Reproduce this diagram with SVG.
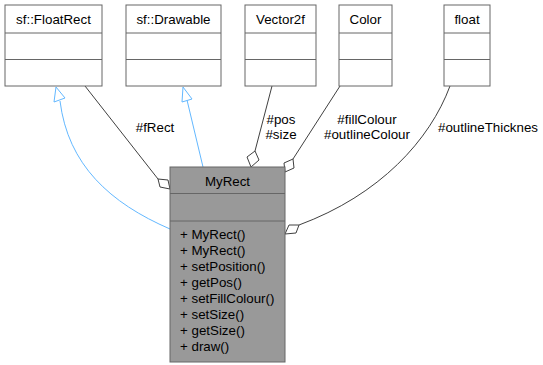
<svg xmlns="http://www.w3.org/2000/svg" width="543" height="365" viewBox="0 0 543 365">
  <style>
    text { font-family: "Liberation Sans", Arial, sans-serif; font-size: 13.33px; fill: #000000; }
    .c { text-anchor: middle; }
    .box { fill: #ffffff; stroke: #666666; stroke-width: 1; }
    .main { fill: #999999; stroke: #666666; stroke-width: 1; }
    .div { stroke: #666666; stroke-width: 1; fill: none; }
    .inh { fill: none; stroke: #63b8ff; stroke-width: 1; }
    .inhHead { fill: #ffffff; stroke: #63b8ff; stroke-width: 1; }
    .use { fill: none; stroke: #404040; stroke-width: 1; }
    .useHead { fill: #ffffff; stroke: #404040; stroke-width: 1; }
  </style>

  <!-- connectors -->
  <g id="edges">
    <!-- inheritance: MyRect -> sf::FloatRect -->
    <path class="inh" d="M60,101 C68,165 110,203 170,229"/>
    <polygon class="inhHead" points="56,87 54,102 65,98"/>
    <!-- inheritance: MyRect -> sf::Drawable -->
    <path class="inh" d="M187,100 L203,167"/>
    <polygon class="inhHead" points="183,87 182,102 192,99"/>
    <!-- member fRect -->
    <path class="use" d="M85,86 L158,179"/>
    <polygon class="useHead" points="158,179 168,180 170,189 160,187"/>
    <text class="c" x="155" y="131.5">#fRect</text>
    <!-- members pos, size -->
    <path class="use" d="M272,86 L255,151"/>
    <polygon class="useHead" points="255,151 259,160 251,167 247,157"/>
    <text class="c" x="281" y="124">#pos</text>
    <text class="c" x="281" y="139">#size</text>
    <!-- members fillColour, outlineColour -->
    <path class="use" d="M340,86 L293,159"/>
    <polygon class="useHead" points="293,159 294,168 285,172 284,163"/>
    <text class="c" x="367" y="124">#fillColour</text>
    <text class="c" x="367" y="139">#outlineColour</text>
    <!-- member outlineThickness -->
    <path class="use" d="M450,86 C430,140 380,195 299,225"/>
    <polygon class="useHead" points="299,225 296,233 285,234 289,225"/>
    <text class="c" x="488" y="131.5">#outlineThicknes</text>
  </g>

  <!-- sf::FloatRect -->
  <g id="node-floatrect">
    <rect class="box" x="5" y="5" width="97" height="81"/>
    <path class="div" d="M5,33 H102 M5,59.5 H102"/>
    <text class="c" x="53.5" y="24">sf::FloatRect</text>
  </g>

  <!-- sf::Drawable -->
  <g id="node-drawable">
    <rect class="box" x="126" y="5" width="95" height="81"/>
    <path class="div" d="M126,33 H221 M126,59.5 H221"/>
    <text class="c" x="173.5" y="24">sf::Drawable</text>
  </g>

  <!-- Vector2f -->
  <g id="node-vector2f">
    <rect class="box" x="245" y="5" width="71" height="81"/>
    <path class="div" d="M245,33 H316 M245,59.5 H316"/>
    <text class="c" x="280.5" y="24">Vector2f</text>
  </g>

  <!-- Color -->
  <g id="node-color">
    <rect class="box" x="339" y="5" width="53" height="81"/>
    <path class="div" d="M339,33 H392 M339,59.5 H392"/>
    <text class="c" x="365.5" y="24">Color</text>
  </g>

  <!-- float -->
  <g id="node-float">
    <rect class="box" x="444" y="5" width="46" height="81"/>
    <path class="div" d="M444,33 H490 M444,59.5 H490"/>
    <text class="c" x="467" y="24">float</text>
  </g>

  <!-- MyRect -->
  <g id="node-myrect">
    <rect class="main" x="170" y="167" width="115" height="195"/>
    <path class="div" d="M170,193.5 H285 M170,221 H285"/>
    <text class="c" x="227.5" y="185.5">MyRect</text>
    <text x="180" y="238.5">+ MyRect()</text>
    <text x="180" y="254.5">+ MyRect()</text>
    <text x="180" y="270.5">+ setPosition()</text>
    <text x="180" y="286.5">+ getPos()</text>
    <text x="180" y="302.5">+ setFillColour()</text>
    <text x="180" y="318.5">+ setSize()</text>
    <text x="180" y="334.5">+ getSize()</text>
    <text x="180" y="350.5">+ draw()</text>
  </g>
</svg>
